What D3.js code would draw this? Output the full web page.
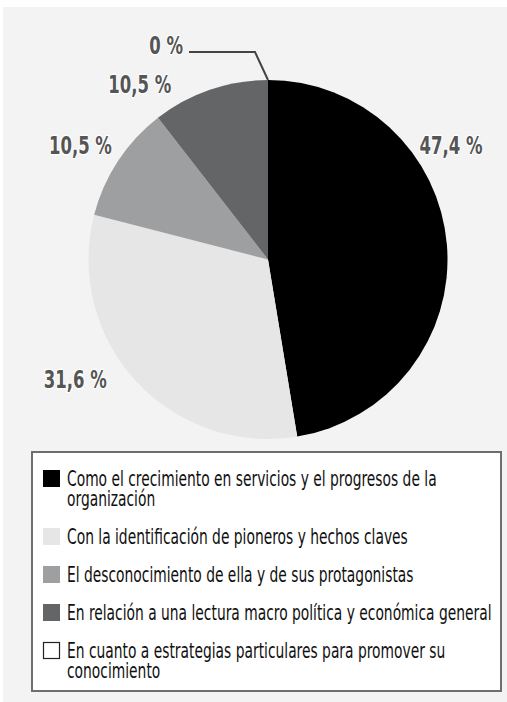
<!DOCTYPE html>
<html>
<head>
<meta charset="utf-8">
<script src="https://cdn.jsdelivr.net/npm/d3@7"></script>
<style>
  html, body { margin: 0; padding: 0; background: #fff; }
  svg { display: block; }
</style>
</head>
<body>
<div id="chart"></div>
<script>
// Slices, clockwise from 12 o'clock
const categories = [
  "Como el crecimiento en servicios y el progresos de la organización",
  "Con la identificación de pioneros y hechos claves",
  "El desconocimiento de ella y de sus protagonistas",
  "En relación a una lectura macro política y económica general",
  "En cuanto a estrategias particulares para promover su conocimiento"
];
const values = [47.4, 31.6, 10.5, 10.5, 0];
const valueLabels = ["47,4 %", "31,6 %", "10,5 %", "10,5 %", "0 %"];
// legend lines (wrapped as in the original)
const legendLines = [
  ["Como el crecimiento en servicios y el progresos de la", "organización"],
  ["Con la identificación de pioneros y hechos claves"],
  ["El desconocimiento de ella y de sus protagonistas"],
  ["En relación a una lectura macro política y económica general"],
  ["En cuanto a estrategias particulares para promover su", "conocimiento"]
];

const colors = ["#000000", "#e6e6e6", "#9e9fa0", "#646567", "#ffffff"];

const W = 507, H = 702;
const cx = 268, cy = 259.5, R = 179.5;
// label placement in polar terms (degrees clockwise from top, distance from centre)
const labelPolar = [[57.9, 216], [238.1, 227], [301.5, 220], [323.8, 217], [null, null]];

const svg = d3.select("#chart").append("svg")
  .attr("width", W).attr("height", H);

svg.append("rect")
  .attr("x", 3).attr("y", 7).attr("width", W - 3).attr("height", H - 7)
  .attr("fill", "#f2f3f2");

const pie = d3.pie().sort(null).value(d => d)(values);
const arc = d3.arc().innerRadius(0).outerRadius(R);

const g = svg.append("g").attr("transform", `translate(${cx},${cy})`);
g.selectAll("path")
  .data(pie)
  .join("path")
    .attr("d", arc)
    .attr("fill", (d, i) => colors[i]);

// labels
const labelFont = "'Liberation Sans Narrow', 'DejaVu Sans Condensed', sans-serif";
const lg = svg.append("g")
  .attr("font-family", labelFont)
  .attr("font-weight", "bold")
  .attr("font-size", 25)
  .attr("fill", "#555555");

// measure for horizontal squeeze: "47,4 %" is about 63px wide in the original
const probe = lg.append("text").text(valueLabels[0]);
const labelSx = Math.min(1, 63 / probe.node().getComputedTextLength());
probe.remove();

function placeLabel(txt, x, y, anchor) {
  lg.append("text")
    .attr("transform", `translate(${x},${y}) scale(${labelSx},1)`)
    .attr("text-anchor", anchor || "middle")
    .attr("dy", "0.36em")
    .attr("stroke", "#ffffff")
    .attr("stroke-width", 2.5)
    .attr("paint-order", "stroke")
    .attr("stroke-linejoin", "round")
    .text(txt);
}

pie.forEach((d, i) => {
  const p = labelPolar[i];
  if (p[0] == null) return;
  const a = p[0] * Math.PI / 180;
  placeLabel(valueLabels[i], cx + p[1] * Math.sin(a), cy - p[1] * Math.cos(a));
});

// zero slice: leader line from the arc start at the top
const zero = pie[4];
const zx = cx + R * Math.sin(zero.startAngle), zy = cy - R * Math.cos(zero.startAngle);
svg.append("path")
  .attr("d", `M${zx},${zy}L${zx - 13},${zy - 28}L${zx - 79},${zy - 28}`)
  .attr("fill", "none")
  .attr("stroke", "#444444")
  .attr("stroke-width", 2);
placeLabel(valueLabels[4], zx - 85, zy - 35, "end");

// legend
const box = { x: 32, y: 452, w: 469, h: 239 };
svg.append("rect")
  .attr("x", box.x).attr("y", box.y).attr("width", box.w).attr("height", box.h)
  .attr("fill", "#ffffff")
  .attr("stroke", "#6e6e6e")
  .attr("stroke-width", 2);

const legFont = "'Liberation Sans Narrow', 'DejaVu Sans Condensed', sans-serif";
const leg = svg.append("g")
  .attr("font-family", legFont)
  .attr("font-size", 22)
  .attr("fill", "#111111");

const probe2 = leg.append("text").text(legendLines[3][0]);
const legSx = Math.min(1, 425 / probe2.node().getComputedTextLength());
probe2.remove();

const itemGap = 38, lineH = 20;
let yBase = 486;
categories.forEach((c, i) => {
  const lines = legendLines[i];
  leg.append("rect")
    .attr("x", i === 4 ? 43.5 : 43).attr("y", yBase - (i === 4 ? 15.5 : 16))
    .attr("width", i === 4 ? 16 : 17).attr("height", i === 4 ? 16 : 17)
    .attr("fill", colors[i])
    .attr("stroke", i === 4 ? "#222222" : "none")
    .attr("stroke-width", 1.2);
  lines.forEach((ln, j) => {
    leg.append("text")
      .attr("transform", `translate(67,${yBase + j * lineH}) scale(${legSx},1)`)
      .text(ln);
  });
  yBase += itemGap + (lines.length - 1) * lineH;
});
</script>
</body>
</html>
